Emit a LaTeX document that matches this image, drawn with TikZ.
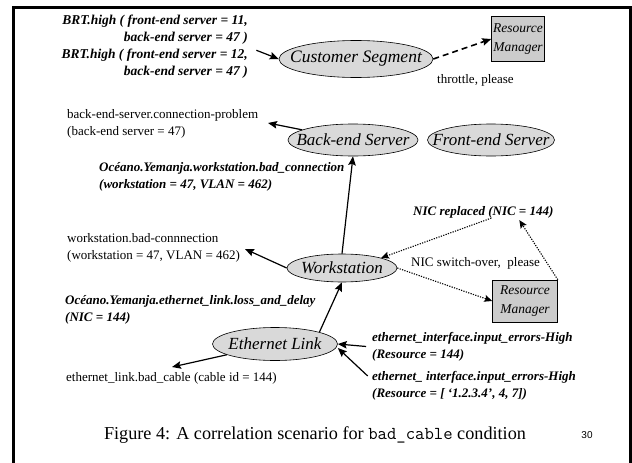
\documentclass[tikz,border=0pt]{standalone}
\usepackage{fontspec}
\setmainfont{Liberation Serif}
\newfontfamily\sansf{Liberation Sans}
\usetikzlibrary{arrows.meta,shapes.geometric}
\tikzset{
  ev/.style={font=\fontsize{13}{17}\selectfont\bfseries\itshape, inner sep=0pt},
  der/.style={font=\fontsize{13}{16.5}\selectfont, inner sep=0pt},
  ell/.style={ellipse, draw, line width=0.6pt, fill=black!15, inner xsep=-40pt, inner ysep=-12pt, font=\fontsize{17}{18}\selectfont\itshape},
  rmbox/.style={draw, line width=0.6pt, fill=black!20, inner sep=0pt, align=center, font=\fontsize{13.5}{19}\selectfont\itshape},
  arr/.style={-{Stealth[length=9pt,width=7.5pt,inset=1.5pt]}, line width=1.2pt},
  darr/.style={-{Stealth[length=9pt,width=7.5pt,inset=1.5pt]}, line width=1.6pt, dash pattern=on 6pt off 4pt},
  oarr/.style={-{Stealth[length=8pt,width=7pt,inset=1.5pt]}, line width=1.1pt, dash pattern=on 1.2pt off 1.3pt},
}
\begin{document}
\begin{tikzpicture}[x=1pt,y=-1pt]
\useasboundingbox (0,0) rectangle (632,463);
\fill[white] (0,0) rectangle (632,463);
\draw[line width=3pt] (13,463) -- (13,7) -- (630,7) -- (630,463);

% top
\node[ev, anchor=east, align=right, font=\fontsize{13.5}{17}\selectfont\bfseries\itshape] (brt) at (248,47) {BRT.high ( front-end server = 11,\\back-end server = 47 )\\BRT.high ( front-end server = 12,\\back-end server = 47 )};
\node[ell, minimum width=154pt, minimum height=37pt, font=\fontsize{17.5}{18}\selectfont\itshape] (cs) at (356,59) {Customer Segment};
\node[rmbox, minimum width=53pt, minimum height=45pt] (rm1) at (518,39) {Resource\\Manager};
\node[der, anchor=west] (thr) at (437,80) {throttle, please};
\draw[arr, shorten <=9pt] (brt.east) -- (cs.west);
\draw[darr] (cs.east) -- (rm1.west);

% back-end level
\node[der, anchor=west, align=left] (bcp) at (67,124) {back-end-server.connection-problem\\(back-end server = 47)};
\node[ell, minimum width=130pt, minimum height=32pt] (be) at (353,140) {Back-end Server};
\node[ell, minimum width=127pt, minimum height=32pt] (fe) at (491,140) {Front-end Server};
\coordinate (bcptip) at (268,123);
\draw[arr] (be) -- (bcptip);

\node[ev, anchor=west, align=left] (owb) at (99,177) {Océano.Yemanja.workstation.bad\_connection\\(workstation = 47, VLAN = 462)};
\node[ev, anchor=west] (nic) at (413,212) {NIC replaced (NIC = 144)};

% workstation level
\node[ell, minimum width=110pt, minimum height=28pt] (ws) at (342,268) {Workstation};
\draw[arr] (ws.north) -- (be.south);
\node[der, anchor=west, align=left] (wbc) at (67,248) {workstation.bad-connnection\\(workstation = 47, VLAN = 462)};
\coordinate (wbctip) at (245,249);
\draw[arr] (ws.west) -- (wbctip);
\node[der, anchor=west] (nsw) at (411,263) {NIC switch-over,\ \ please};
\node[rmbox, minimum width=65pt, minimum height=42pt] (rm2) at (525,301) {Resource\\Manager};
\draw[oarr] ([xshift=8pt]nic.south) -- (ws.north east);
\draw[oarr] (ws.east) -- (rm2.west);
\draw[oarr] (rm2.north east) -- ([xshift=36pt,yshift=-2pt]nic.south);

% ethernet level
\node[ev, anchor=west, align=left] (oel) at (65,310) {Océano.Yemanja.ethernet\_link.loss\_and\_delay\\(NIC = 144)};
\node[ell, minimum width=125pt, minimum height=33pt] (el) at (275,344) {Ethernet Link};
\draw[arr] (el.north east) -- (ws.south);
\node[ev, anchor=west, align=left] (ie1) at (372,347) {ethernet\_interface.input\_errors-High\\(Resource = 144)};
\node[ev, anchor=west, align=left] (ie2) at (372,386) {ethernet\_ interface.input\_errors-High\\(Resource = [ ‘1.2.3.4’, 4, 7])};
\draw[arr, shorten <=6pt] (ie1.west) -- (el.east);
\draw[arr, shorten <=6pt] ([yshift=6pt]ie2.west) -- ([yshift=-4pt]el.east);
\node[der, anchor=west] (ebc) at (66,378) {ethernet\_link.bad\_cable (cable id = 144)};
\coordinate (ebctip) at (172,367);
\draw[arr] (el) -- (ebctip);

% caption
\node[font=\fontsize{18.2}{20}\selectfont, inner sep=0pt] (cap) at (315,435) {Figure 4: A correlation scenario for \texttt{bad\_cable} condition};
\node[font=\sansf\fontsize{10}{12}\selectfont, inner sep=0pt] (pg) at (587,435) {30};
\end{tikzpicture}
\end{document}
